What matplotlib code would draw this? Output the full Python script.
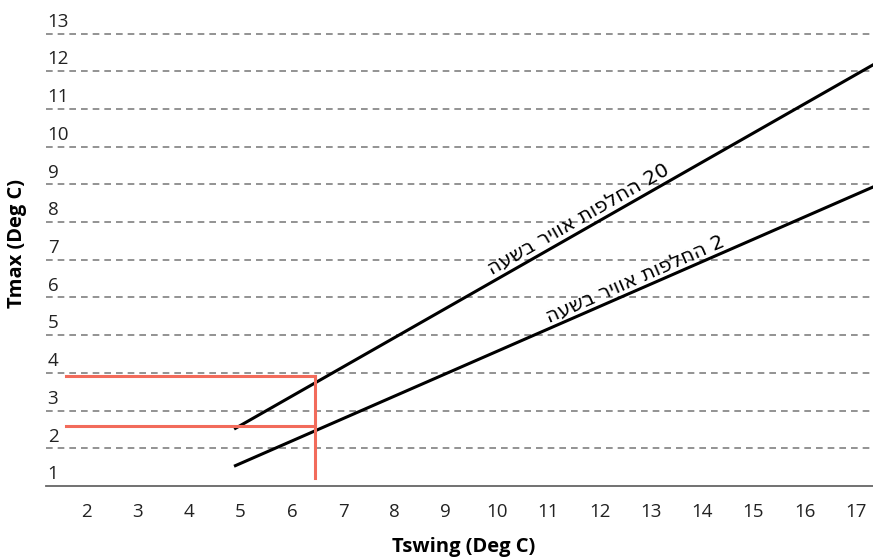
#Tmax vs Tswing chart
import math
import matplotlib
matplotlib.use("Agg")
from matplotlib import pyplot as plt
from matplotlib import transforms

plt.rcParams['font.family'] = ['Open Sans', 'DejaVu Sans']

# Data
x_ticks = [2, 3, 4, 5, 6, 7, 8, 9, 10, 11, 12, 13, 14, 15, 16, 17]
y_ticks = [1, 2, 3, 4, 5, 6, 7, 8, 9, 10, 11, 12, 13]

# 20 air changes per hour
line20_x = [4.9, 17.33]
line20_y = [2.53, 12.17]
label20 = "20 החלפות אוויר בשעה"

# 2 air changes per hour
line2_x = [4.9, 17.33]
line2_y = [1.54, 8.93]
label2 = "2 החלפות אוויר בשעה"

# red marker lines
red_x = 6.45
red_x_start = 1.59
red_y_low = 2.6
red_y_high = 3.93
red_y_bottom = 1.2


def visual_rtl(s):
    # matplotlib has no bidi, so put the hebrew in visual order
    words = s.split()
    out = []
    for w in reversed(words):
        if w.isdigit():
            out.append(w)
        else:
            out.append(w[::-1])
    return " ".join(out)


fig = plt.figure(figsize=(8.73, 5.57), dpi=100)
ax = fig.add_axes([46/873, 71/557, 827/873, 486/557])
ax.set_xlim(1.207, 17.33)
ax.set_ylim(1, 13.89)

# dashed grid lines
for v in y_ticks[1:]:
    ax.axhline(v, color='#808080', linewidth=1.2, linestyle=(0, (4, 3)), zorder=1)

# spines
for s in ['top', 'right', 'left']:
    ax.spines[s].set_visible(False)
ax.spines['bottom'].set_color('#666666')
ax.spines['bottom'].set_linewidth(1.3)

# x ticks
ax.set_xticks(x_ticks)
ax.set_xticklabels([str(v) for v in x_ticks], fontsize=13.5, color='#222222')
ax.tick_params(axis='x', length=0, pad=12)
ax.set_yticks([])

# y tick labels sit just above their lines
trans = transforms.blended_transform_factory(ax.transAxes, ax.transData)
off = transforms.ScaledTranslation(0, 2/72, fig.dpi_scale_trans)
for v in y_ticks:
    ax.text(0.002, v, str(v), transform=trans + off, ha='left', va='bottom',
            fontsize=13.5, color='#222222')

# lines
ax.plot(line20_x, line20_y, color='black', linewidth=2.2, zorder=3)
ax.plot(line2_x, line2_y, color='black', linewidth=2.2, zorder=3)

# red lines
ax.plot([red_x_start, red_x], [red_y_high, red_y_high], color='#f26b5b', linewidth=2.2, zorder=4)
ax.plot([red_x_start, red_x], [red_y_low, red_y_low], color='#f26b5b', linewidth=2.2, zorder=4)
ax.plot([red_x, red_x], [red_y_bottom, red_y_high], color='#f26b5b', linewidth=2.2, zorder=4)

# labels along the lines
slope20 = (line20_y[1] - line20_y[0]) / (line20_x[1] - line20_x[0])
slope2 = (line2_y[1] - line2_y[0]) / (line2_x[1] - line2_x[0])
tx20 = 11.6
tx2 = 12.7
ax.text(tx20, line20_y[0] + slope20 * (tx20 - line20_x[0]) + 0.33, visual_rtl(label20),
        rotation=math.degrees(math.atan(slope20)), transform_rotates_text=True,
        rotation_mode='anchor', ha='center', va='center', fontsize=14.5,
        family=['DejaVu Sans'])
ax.text(tx2, line2_y[0] + slope2 * (tx2 - line2_x[0]) + 0.3, visual_rtl(label2),
        rotation=math.degrees(math.atan(slope2)), transform_rotates_text=True,
        rotation_mode='anchor', ha='center', va='center', fontsize=14.5,
        family=['DejaVu Sans'])

fig.text(464/873, 1 - 547/557, "Tswing (Deg C)", ha='center', va='center',
         fontsize=14.5, fontweight='bold')
fig.text(17/873, 1 - 243/557, "Tmax (Deg C)", ha='center', va='center',
         fontsize=14.5, fontweight='bold', rotation=90)

plt.savefig('out.png', dpi=100)
